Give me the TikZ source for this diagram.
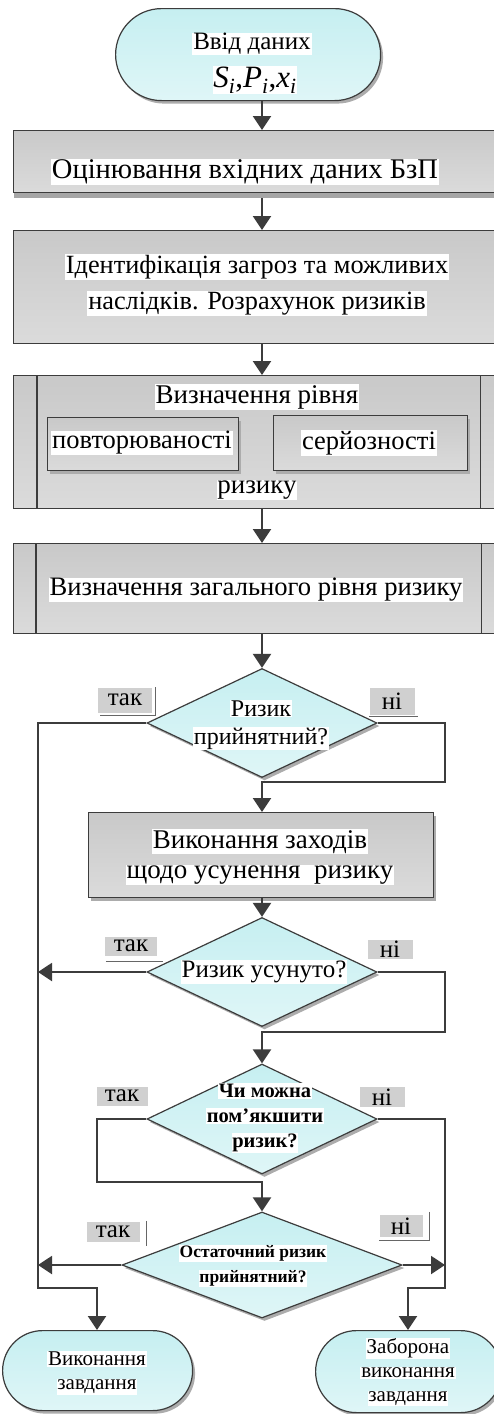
\documentclass[tikz,border=0pt]{standalone}
\usepackage{fontspec}
\setmainfont{Liberation Serif}
\usetikzlibrary{shapes.geometric,arrows.meta,shadows,calc}
\definecolor{ln}{HTML}{3C3C3C}
\definecolor{boxtop}{HTML}{C9C9C9}
\definecolor{boxbot}{HTML}{DBDBDB}
\definecolor{cyantop}{HTML}{C6EFF1}
\definecolor{cyanbot}{HTML}{DFF6F7}
\definecolor{labfill}{HTML}{D0D0D0}
\newcommand{\hlw}[1]{{\setlength{\fboxsep}{0.8pt}\colorbox{white}{#1}}}
\tikzset{
  shd/.style={drop shadow={shadow xshift=2.5pt,shadow yshift=-3pt,fill=gray!65,opacity=1}},
  procbox/.style={rectangle, draw=ln, line width=1.2pt, top color=boxtop, bottom color=boxbot, inner sep=0pt, anchor=north west},
  termbox/.style={rectangle, draw=ln, line width=1.2pt, top color=cyantop, bottom color=cyanbot, inner sep=0pt, anchor=north west, shd},
  dia/.style={diamond, draw=ln, line width=1.2pt, top color=cyantop, bottom color=cyanbot, inner sep=0pt, shd},
  txt/.style={align=center, inner sep=0pt, text=black},
  lab/.style={fill=labfill, inner sep=0pt, font=\fontsize{25}{25}\selectfont},
  conn/.style={draw=ln, line width=2pt},
  arr/.style={draw=ln, line width=2pt, -{Triangle[width=18pt,length=14pt]}},
  thinl/.style={draw=gray!80!black, line width=1pt}
}
\begin{document}
\begin{tikzpicture}[x=1pt,y=-1pt]
\useasboundingbox (0,0) rectangle (494,1414);
\fill[white] (0,0) rectangle (494,1414);
\coordinate (ax) at (262,0);
\coordinate (L) at (38,0);
\coordinate (R) at (445,0);
\coordinate (TL) at (97,0);
\coordinate (TR) at (408,0);

% start terminal
\node[termbox, minimum width=265pt, minimum height=92pt, rounded corners=46pt] (start) at (115,8) {};
\node[txt, font=\fontsize{25}{30}\selectfont] (st1) at (252,44) {\hlw{Ввід даних}};
\node[txt, font=\fontsize{31}{31}\selectfont] (st2) at (255,80) {\hlw{\itshape S\textsubscript{i}\upshape ,\itshape P\textsubscript{i}\upshape ,\itshape x\textsubscript{i}}};

% box 1
\node[procbox, minimum width=487pt, minimum height=62pt, drop shadow={shadow xshift=0pt,shadow yshift=-5pt,fill=gray!70,opacity=1}] (b1) at (13,130) {};
\node[txt, font=\fontsize{28.5}{28.5}\selectfont] (t1) at (245,172) {\hlw{Оцінювання вхідних даних БзП}};

% box 2
\node[procbox, minimum width=487pt, minimum height=113pt] (b2) at (13,230) {};
\node[txt, font=\fontsize{26.3}{36}\selectfont] (t2) at (257,285) {\hlw{Ідентифікація загроз та можливих}\\\hlw{наслідків. Розрахунок ризиків}};

% box 3
\node[procbox, minimum width=487pt, minimum height=133pt] (b3) at (13,375) {};
\draw[draw=ln, line width=1.2pt] ($(b3.north west)+(24,0)$) -- ($(b3.south west)+(24,0)$);
\draw[draw=ln, line width=1.2pt] ($(b3.north east)+(-21,0)$) -- ($(b3.south east)+(-21,0)$);
\node[txt, font=\fontsize{27}{27}\selectfont] (t3a) at (257,397) {\hlw{Визначення рівня}};
\node[procbox, minimum width=191pt, minimum height=53pt, shd] (s1) at (47,417) {};
\node[procbox, minimum width=194pt, minimum height=55pt, shd] (s2) at (273,415) {};
\node[txt, font=\fontsize{26.5}{26.5}\selectfont] (t3b) at (142,443) {\hlw{повторюваності}};
\node[txt, font=\fontsize{26.5}{26.5}\selectfont] (t3c) at (369,443) {\hlw{серйозності}};
\node[txt, font=\fontsize{27}{27}\selectfont] (t3d) at (257,490) {\hlw{ризику}};

% box 4
\node[procbox, minimum width=487pt, minimum height=90pt] (b4) at (13,543) {};
\draw[draw=ln, line width=1.2pt] ($(b4.north west)+(23,0)$) -- ($(b4.south west)+(23,0)$);
\draw[draw=ln, line width=1.2pt] ($(b4.north east)+(-20,0)$) -- ($(b4.south east)+(-20,0)$);
\node[txt, font=\fontsize{26.6}{26.6}\selectfont] (t4) at (256,590) {\hlw{Визначення загального рівня ризику}};

% diamond 1
\node[dia, minimum width=230pt, minimum height=109pt] (d1) at (262,723) {};
\node[txt, font=\fontsize{24}{28}\selectfont] (td1) at (261,725) {\hlw{Ризик}\\\hlw{прийнятний?}};

% box 5
\node[procbox, minimum width=345pt, minimum height=85pt, shd] (b5) at (88,812) {};
\node[txt, font=\fontsize{27}{30}\selectfont] (t5) at (260,857) {\hlw{Виконання заходів}\\\hlw{щодо усунення\ \ ризику}};

% diamond 2
\node[dia, minimum width=230pt, minimum height=109pt] (d2) at (262,972) {};
\node[txt, font=\fontsize{25}{25}\selectfont] (td2) at (264,972) {\hlw{Ризик усунуто?}};

% diamond 3
\node[dia, minimum width=230pt, minimum height=110pt] (d3) at (262,1119) {};
\node[txt, font=\bfseries\fontsize{20.5}{25}\selectfont] (td3) at (265,1118) {\hlw{Чи можна}\\\hlw{пом’якшити}\\\hlw{ризик?}};

% diamond 4
\node[dia, minimum width=280pt, minimum height=106pt] (d4) at (262,1265) {};
\node[txt, font=\bfseries\fontsize{17.5}{25}\selectfont] (td4) at (253,1266) {\hlw{Остаточний ризик}\\\hlw{прийнятний?}};

% end terminals
\node[termbox, minimum width=190pt, minimum height=80pt, rounded corners=40pt] (e1) at (2,1330) {};
\node[txt, font=\fontsize{21}{24}\selectfont] (te1) at (97,1373) {\hlw{Виконання}\\\hlw{завдання}};
\node[termbox, minimum width=186pt, minimum height=82pt, rounded corners=41pt] (e2) at (315,1330) {};
\node[txt, font=\fontsize{21}{24}\selectfont] (te2) at (408,1372) {\hlw{Заборона}\\\hlw{виконання}\\\hlw{завдання}};

% labels
\node[lab, minimum width=54pt, minimum height=25pt] (l1y) at (125,700) {так};
\node[lab, minimum width=45pt, minimum height=27pt] (l1n) at (392,701) {ні};
\node[lab, minimum width=52pt, minimum height=19pt] (l2y) at (131,946) {так};
\node[lab, minimum width=45pt, minimum height=19pt] (l2n) at (390,949) {ні};
\node[lab, minimum width=51pt, minimum height=19pt] (l3y) at (122,1096) {так};
\node[lab, minimum width=45pt, minimum height=20pt] (l3n) at (382,1097) {ні};
\node[lab, minimum width=53pt, minimum height=20pt] (l4y) at (113,1232) {так};
\node[lab, minimum width=43pt, minimum height=22pt] (l4n) at (401,1226) {ні};
\draw[thinl] ($(l1y.north east)+(3,0)$) -- ($(l1y.south east)+(3,3)$) -- ($(l1y.south west)+(2,3)$);
\draw[thinl] ($(l1n.south west)+(0,2)$) -- ($(l1n.south east)+(3,2)$);
\draw[thinl] ($(l2y.south west)+(1,6)$) -- ($(l2y.south east)+(6,6)$);
\draw[thinl] ($(l4y.north east)+(7,-1)$) -- ($(l4y.south east)+(7,4)$);
\draw[thinl] ($(l4n.north east)+(7,-3)$) -- ($(l4n.south east)+(7,3)$) -- ($(l4n.south west)+(0,3)$);

% connectors
\draw[arr] (start.south -| ax) -- (b1.north -| ax);
\draw[arr] ($(b1.south -| ax)+(0,5)$) -- (b2.north -| ax);
\draw[arr] (b2.south -| ax) -- (b3.north -| ax);
\draw[arr] (b3.south -| ax) -- (b4.north -| ax);
\draw[arr] (b4.south -| ax) -- (d1.north);
\draw[arr] (d1.west) -- (d1.west -| L) -- ($(e1.north -| L)+(0,-42)$) -- ($(e1.north -| TL)+(0,-42)$) -- (e1.north -| TL);
\draw[arr] (d1.east) -- (d1.east -| R) -- ($(d1.south -| R)+(0,4)$) -- ($(d1.south)+(0,4)$) -- (b5.north -| ax);
\draw[arr] (b5.south -| ax) -- (d2.north);
\draw[arr] (d2.west) -- (d2.west -| L);
\draw[arr] (d2.east) -- (d2.east -| R) -- ($(d2.south -| R)+(0,5)$) -- ($(d2.south)+(0,5)$) -- (d3.north);
\draw[arr] (d3.west) -- (d3.west -| TL) -- ($(d3.south -| TL)+(0,7)$) -- ($(d3.south)+(0,7)$) -- (d4.north);
\draw[arr] (d3.east) -- (d3.east -| R) -- ($(e2.north -| R)+(0,-42)$) -- ($(e2.north -| TR)+(0,-42)$) -- (e2.north -| TR);
\draw[arr] (d4.west) -- (d4.west -| L);
\draw[arr] (d4.east) -- (d4.east -| R);
\end{tikzpicture}
\end{document}
